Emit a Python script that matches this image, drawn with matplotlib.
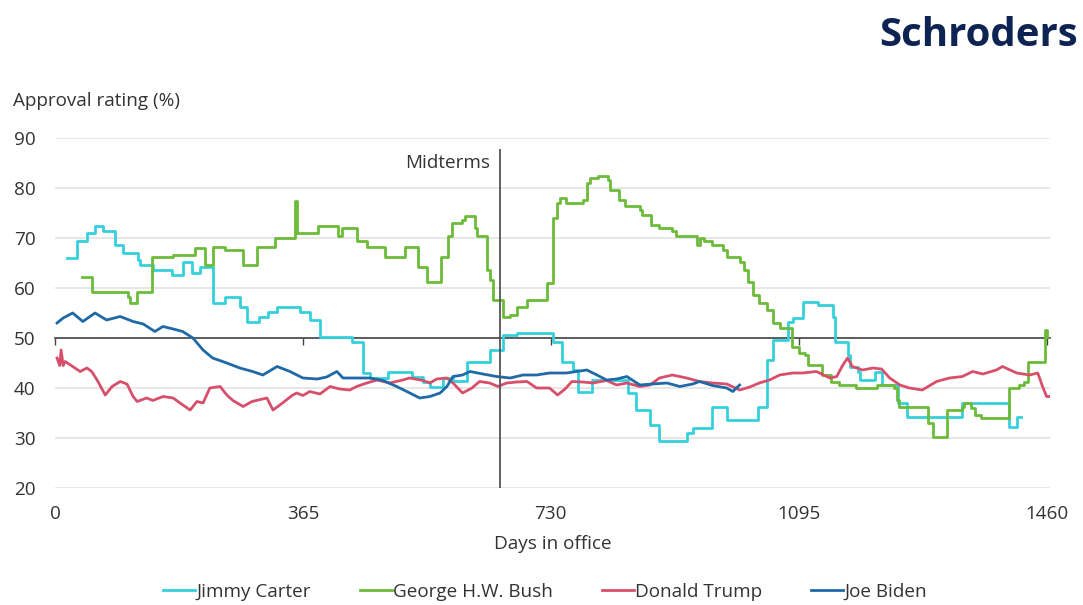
import matplotlib
matplotlib.use("Agg")
import matplotlib.pyplot as plt

plt.rcParams['font.family'] = ['Open Sans', 'DejaVu Sans']

# Day in office and approval rating (%) for each president
carter_days = [17, 32, 47, 59, 71, 88, 100, 122, 125, 145, 173, 188, 202, 213, 232, 250, 272,
               283, 301, 313, 327, 360, 375, 390, 438, 453, 464, 490, 525, 542, 552, 571, 586,
               606, 640, 659, 680, 733, 746, 762, 770, 790, 843, 856, 876, 890, 930, 939, 968,
               990, 1035, 1049, 1057, 1079, 1086, 1101, 1124, 1145, 1148, 1167, 1170, 1182,
               1185, 1207, 1217, 1241, 1255, 1336, 1405, 1417, 1423]
carter_vals = [66, 69.5, 71, 72.4, 71.4, 68.7, 67, 65.7, 64.7, 63.7, 62.7, 65.3, 63, 64.3, 57,
               58.3, 56.3, 53.3, 54.3, 55.3, 56.3, 55.3, 53.6, 50.3, 49.3, 43, 42, 43.3, 42.3,
               41.3, 40.3, 42, 41.5, 45.3, 47.6, 50.6, 51, 49.3, 45.3, 43.6, 39.3, 41.6, 39,
               35.6, 32.6, 29.4, 31, 32, 36.3, 33.7, 36.3, 45.6, 49.6, 53.3, 54, 57.2, 56.6,
               54.3, 49.3, 46.6, 44.3, 43.3, 41.6, 43.3, 40.6, 37, 34.3, 37, 32.3, 34.3, 34.3]

bush_days = [40, 54, 107, 110, 121, 143, 174, 206, 221, 232, 250, 277, 297, 324, 353, 356, 387,
             416, 422, 444, 459, 486, 515, 534, 547, 569, 578, 584, 599, 603, 618, 622, 636,
             640, 645, 659, 670, 680, 695, 725, 733, 739, 743, 753, 777, 783, 787, 799, 814,
             817, 831, 839, 861, 865, 878, 890, 909, 915, 945, 949, 956, 968, 983, 990, 1008,
             1015, 1020, 1027, 1037, 1048, 1057, 1067, 1085, 1096, 1104, 1108, 1130, 1143,
             1155, 1180, 1211, 1236, 1239, 1243, 1285, 1292, 1314, 1336, 1339, 1349, 1354,
             1364, 1405, 1420, 1427, 1432, 1457, 1460]
bush_vals = [62.3, 59.3, 58.3, 57, 59.3, 66.3, 66.6, 68, 64.6, 68.3, 67.6, 64.6, 68.3, 70,
             77.4, 71, 72.4, 70.4, 72, 69.4, 68.3, 66.3, 68.3, 64.3, 61.3, 66.3, 70.4, 73,
             73.6, 74.4, 72, 70.4, 63.6, 61.6, 57.6, 54.3, 54.6, 56.3, 57.6, 61, 74, 77, 78,
             77, 77.6, 81, 82, 82.4, 81.6, 79.7, 77.6, 76.4, 75.7, 74.7, 72.7, 72, 71.4, 70.4,
             68.7, 70, 69.4, 68.7, 67.7, 66.3, 65.3, 63.6, 61.3, 58.7, 57, 55.6, 53, 52, 48.3,
             47, 46.6, 44.6, 42.6, 41.3, 40.6, 40, 40.6, 40, 37.6, 36.3, 33, 30.3, 35.6, 36.3,
             37, 36, 34.6, 34, 40, 40.6, 41.3, 45.3, 51.6, 50.3]

trump_days = [3, 7, 9, 12, 15, 26, 37, 47, 54, 62, 74, 84, 96, 106, 115, 121, 135, 144, 159,
              174, 184, 199, 209, 218, 228, 243, 253, 262, 277, 290, 312, 321, 335, 350, 356,
              365, 375, 390, 405, 419, 434, 444, 459, 474, 493, 512, 522, 542, 552, 562, 577,
              586, 600, 614, 625, 640, 652, 665, 680, 695, 709, 728, 740, 751, 761, 777, 792,
              812, 827, 842, 861, 876, 890, 909, 930, 949, 968, 989, 1008, 1023, 1037, 1052,
              1067, 1086, 1101, 1121, 1141, 1151, 1160, 1167, 1174, 1189, 1204, 1217, 1229,
              1244, 1258, 1277, 1298, 1317, 1336, 1351, 1366, 1386, 1395, 1416, 1435, 1447,
              1454, 1460, 1463]
trump_vals = [46, 44.5, 47.6, 44.5, 45.3, 44.3, 43.3, 44, 43.3, 41.6, 38.6, 40.3, 41.3, 40.8,
              38.3, 37.3, 38, 37.5, 38.3, 38, 37, 35.6, 37.3, 37, 40, 40.3, 38.6, 37.5, 36.3,
              37.3, 38, 35.6, 37, 38.6, 39, 38.5, 39.3, 38.8, 40.3, 39.8, 39.6, 40.3, 41, 41.6,
              41, 41.6, 42, 41.5, 41, 41.8, 42, 41, 39, 40, 41.3, 41, 40.3, 41, 41.2, 41.3, 40,
              40, 38.6, 39.8, 41.3, 41.2, 41, 41.5, 40.6, 41, 40.3, 40.6, 42, 42.6, 42, 41.3,
              41, 40.8, 39.6, 40.2, 41, 41.6, 42.6, 43, 43, 43.3, 42, 42.3, 44.6, 46, 44.3,
              43.6, 44, 43.8, 42, 40.6, 40, 39.6, 41.3, 42, 42.3, 43.3, 42.8, 43.6, 44.3, 43,
              42.6, 43, 40.3, 38.3, 38.3]

biden_days = [3, 12, 26, 41, 59, 76, 96, 115, 130, 147, 159, 174, 188, 203, 218, 232, 253,
              272, 291, 306, 327, 346, 365, 386, 400, 415, 424, 444, 464, 483, 503, 518, 537,
              552, 567, 577, 586, 600, 611, 630, 650, 670, 689, 709, 728, 753, 783, 798, 812,
              827, 842, 861, 880, 901, 920, 939, 949, 968, 989, 998, 1008]
biden_vals = [53, 54, 55, 53.3, 55, 53.6, 54.3, 53.3, 52.8, 51.3, 52.3, 51.8, 51.3, 50, 47.6,
              46, 45, 44, 43.3, 42.6, 44.3, 43.3, 42, 41.8, 42.2, 43.3, 42, 42, 42, 41.5, 40.3,
              39.3, 38, 38.3, 39, 40.3, 42.3, 42.6, 43.3, 42.8, 42.3, 42, 42.6, 42.6, 43, 43,
              43.6, 42.6, 41.6, 41.8, 42.3, 40.6, 40.8, 41, 40.3, 40.8, 41.3, 40.5, 40, 39.3,
              40.6]

midterm_day = 655
x_ticks = [0, 365, 730, 1095, 1460]
y_ticks = [20, 30, 40, 50, 60, 70, 80, 90]

FS = 13.6
fig = plt.figure(figsize=(10.83, 6.05), dpi=100)
ax = fig.add_axes([55 / 1083, 1 - 488 / 605, 995 / 1083, 350 / 605])

text_col = '#333333'
grid_col = '#e3e3e3'

ax.set_xlim(0, 1465)
ax.set_ylim(20, 90)
ax.set_yticks(y_ticks)
ax.yaxis.grid(True, color=grid_col, linewidth=1.2)
ax.set_axisbelow(True)
for side in ['left', 'right', 'top']:
    ax.spines[side].set_visible(False)
ax.tick_params(axis='y', length=0, pad=14, labelsize=FS, labelcolor=text_col)

# Horizontal axis line crosses at 50%
ax.spines['bottom'].set_position(('data', 50))
ax.spines['bottom'].set_color('#444444')
ax.spines['bottom'].set_linewidth(1.2)
ax.set_xticks(x_ticks)
ax.tick_params(axis='x', direction='out', length=5, width=1, color='#444444',
               labelbottom=False)

sec = ax.secondary_xaxis(0.0)
sec.set_xticks(x_ticks)
sec.tick_params(length=0, pad=12, labelsize=FS, labelcolor=text_col)
sec.spines['bottom'].set_visible(False)
sec.set_xlabel('Days in office', fontsize=FS, color=text_col, labelpad=9)

ax.plot(carter_days, carter_vals, drawstyle='steps-post', color='#36d0dc', lw=2.0,
        label='Jimmy Carter', zorder=3)
ax.plot(bush_days, bush_vals, drawstyle='steps-post', color='#6dbb3a', lw=2.0,
        label='George H.W. Bush', zorder=3)
ax.plot(trump_days, trump_vals, color='#d84f6b', lw=2.0, label='Donald Trump', zorder=3)
ax.plot(biden_days, biden_vals, color='#1f6aa6', lw=2.0, label='Joe Biden', zorder=4)

ax.vlines(midterm_day, 20, 87.8, color='#555555', lw=1.3, zorder=5)
ax.text(midterm_day - 14, 84.9, 'Midterms', ha='right', va='center', fontsize=FS,
        color=text_col)

fig.text(13 / 1083, 1 - 101 / 605, 'Approval rating (%)', ha='left', va='center',
         fontsize=FS, color=text_col)
fig.text(1078 / 1083, 1 - 36 / 605, 'Schroders', ha='right', va='center', fontsize=29,
         fontweight='bold', color='#0d2452')

fig.legend(loc='center', bbox_to_anchor=(545 / 1083, 1 - 592 / 605), ncol=4, frameon=False,
           fontsize=FS, handlelength=1.7, handletextpad=0.05, columnspacing=2.6,
           labelcolor=text_col)

fig.savefig('out.png', dpi=100, facecolor='white')
